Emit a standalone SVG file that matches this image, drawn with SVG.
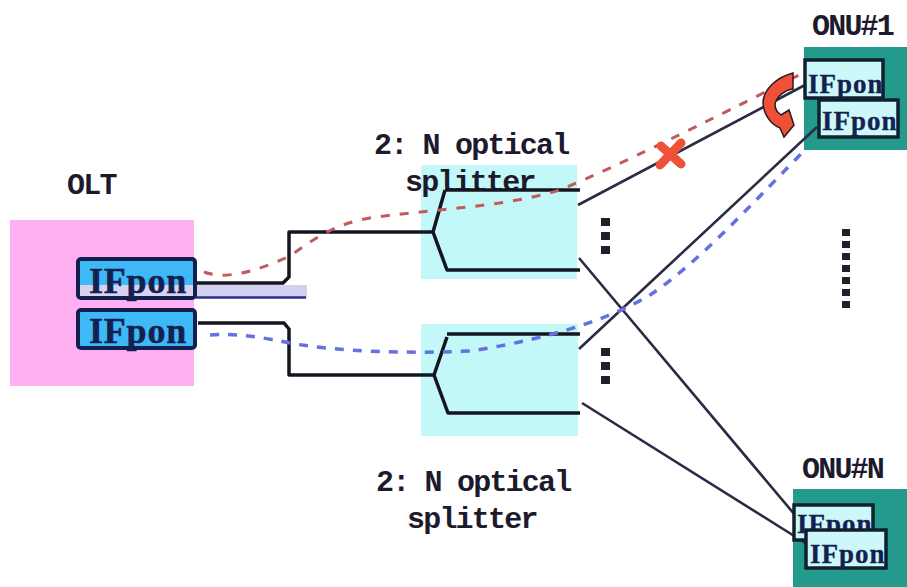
<svg xmlns="http://www.w3.org/2000/svg" width="907" height="587" viewBox="0 0 907 587">
<style>
text{font-family:"Liberation Mono","DejaVu Sans Mono",monospace;font-weight:bold;fill:#1d1a2e}
.lbl{font-size:30px;letter-spacing:-1.800px}
.pon{font-family:"Liberation Serif","DejaVu Serif",serif;font-size:36px;letter-spacing:.8px;fill:#14204f;stroke:#14204f;stroke-width:.5px}
.sm{font-family:"Liberation Serif","DejaVu Serif",serif;font-size:27px;letter-spacing:1px;fill:#14204f;stroke:#14204f;stroke-width:.3px}
.port{fill:#3fb9f6;stroke:#13204f;stroke-width:4px}
.wport{fill:#ccf8fa;stroke:#11202f;stroke-width:3.500px}
.teal{fill:#239a8c}
.split{fill:#c3f8f8}
.fib{fill:none;stroke:#15151f;stroke-width:3.500px;stroke-linejoin:round}
.out{fill:none;stroke:#2b2b45;stroke-width:2.600px}
.red{fill:none;stroke:#c25a5e;stroke-width:3px;stroke-dasharray:9 10}
.blue{fill:none;stroke:#6670e0;stroke-width:3.500px;stroke-dasharray:9 9}
.dot{fill:#20202c}
.mark{fill:#ee5038}
</style>
<rect width="907" height="587" fill="#fff"/>
<g id="olt">
<rect x="10" y="220" width="184" height="166" fill="#fdb0f2"/>
<text class="lbl" x="67" y="194">OLT</text>
<rect x="196" y="285" width="111" height="13" fill="#d3d0f0"/>
<line x1="196" y1="297.500" x2="306" y2="297.500" stroke="#2f2f8a" stroke-width="2.500"/>
</g>
<g id="splitter1">
<rect class="split" x="421" y="165" width="156" height="114"/>
<text class="lbl" x="374" y="154">2: N optical</text>
<text class="lbl" x="405" y="191">splitter</text>
</g>
<g id="splitter2">
<rect class="split" x="421" y="324" width="157" height="112"/>
<text class="lbl" x="376" y="491">2: N optical</text>
<text class="lbl" x="407" y="528">splitter</text>
</g>
<g id="onu1">
<rect class="teal" x="804" y="47" width="103" height="103"/>
<text class="lbl" x="812" y="35">ONU#1</text>
</g>
<g id="onun">
<rect class="teal" x="793" y="489" width="114" height="98"/>
<text class="lbl" x="802" y="478">ONU#N</text>
</g>
<g id="connectors">
<path class="fib" d="M197 283H283L289 277V232H433"/>
<path class="fib" d="M198 323H284L289 329V375H433"/>
<path class="fib" d="M445 190H580M445 190L433 232L447 270H580"/>
<path class="fib" d="M447 334H580M447 337L434 375L448 413H580"/>
<path class="out" d="M578 205L805 85M579 258L795 515M579 349L817 127M582 403L807 544"/>
<path class="red" d="M204 272C225 280 255 272 290 256C315 238 335 224 370 218C430 209 500 208 560 190C620 165 700 125 805 72"/>
<path class="blue" d="M210 335C240 333 265 338 295 344C340 351 400 354 470 351C530 342 600 325 650 295C700 262 760 195 805 150"/>
</g>
<g id="olt-ports">
<rect class="port" x="78" y="259" width="117" height="39" rx="3"/>
<rect x="80" y="285" width="113" height="11" fill="#d9d2ee"/>
<rect class="port" x="78" y="310" width="117" height="38" rx="3"/>
<text class="pon" x="89" y="293">IFpon</text>
<text class="pon" x="89" y="343">IFpon</text>
</g>
<g id="onu1-ports">
<rect class="wport" x="805" y="60" width="78" height="38"/>
<text class="sm" x="808" y="93">IFpon</text>
<rect class="wport" x="819" y="100" width="79" height="37"/>
<text class="sm" x="822" y="130">IFpon</text>
</g>
<g id="onun-ports">
<rect class="wport" x="794" y="505" width="79" height="35"/>
<text class="sm" x="797" y="533">IFpon</text>
<rect class="wport" x="806" y="530" width="80" height="38"/>
<text class="sm" x="810" y="563">IFpon</text>
</g>
<g id="dots">
<path class="dot" d="M601 218h9v8h-9zM601 232h9v8h-9zM601 246h9v8h-9zM601 348h9v8h-9zM601 362h9v8h-9zM601 376h9v8h-9zM842 229h8v7h-8zM842 241h8v7h-8zM842 253h8v7h-8zM842 265h8v7h-8zM842 277h8v7h-8zM842 289h8v7h-8zM842 301h8v7h-8z"/>
</g>
<g id="marks">
<path d="M661 146L681 164M681 143L660 165" fill="none" stroke="#ee5038" stroke-width="9" stroke-linecap="round"/>
<path class="mark" stroke="#2a1a20" stroke-width="1.500" d="M793 73V89C785 90 777 96 775 104C775 110 778 113 781 115L789 110L794 125L784 137L780 128C770 124 763 113 763 102C764 88 778 77 793 73Z"/>
</g>
</svg>
